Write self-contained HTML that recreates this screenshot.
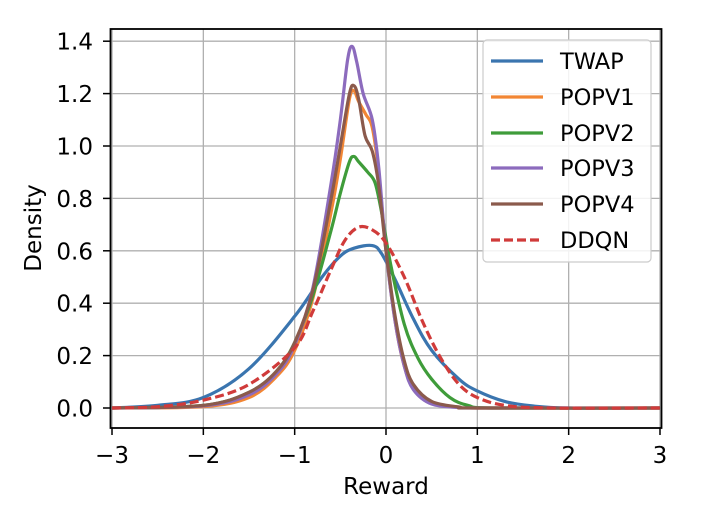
<!DOCTYPE html>
<html><head><meta charset="utf-8"><style>
html,body{margin:0;padding:0;background:#fff}
svg text{font-family:"DejaVu Sans","Liberation Sans",sans-serif;fill:#000}
</style></head><body>
<svg id="s" width="720" height="512" viewBox="0 0 720 512" xmlns="http://www.w3.org/2000/svg">
<rect width="720" height="512" fill="#fff"/>
<g id="grid" stroke="#b0b0b0" stroke-width="1.3"></g>
<g id="curves" fill="none" stroke-width="3.2" stroke-linejoin="round"></g>
<rect x="110.5" y="29" width="551" height="399" fill="none" stroke="#000" stroke-width="1.8"/>
<g id="ticks" stroke="#000" stroke-width="1.5"></g>
<g id="labels" font-size="23"></g>
<text x="386" y="494" font-size="23" text-anchor="middle">Reward</text>
<text transform="translate(41,228) rotate(-90)" font-size="23" text-anchor="middle">Density</text>
<g>
<rect x="483" y="40" width="168" height="222" rx="4" fill="#fff" fill-opacity="0.85" stroke="#ccc" stroke-width="1.2"/>
<g stroke-width="3.2">
<line x1="491" y1="61" x2="543" y2="61" stroke="#3a75af"/>
<line x1="491" y1="97" x2="543" y2="97" stroke="#f28634"/>
<line x1="491" y1="133" x2="543" y2="133" stroke="#3f9c3a"/>
<line x1="491" y1="168" x2="543" y2="168" stroke="#8c6bbd"/>
<line x1="491" y1="204" x2="543" y2="204" stroke="#8b5a4c"/>
<line x1="491" y1="240" x2="543" y2="240" stroke="#d03b3a" stroke-dasharray="9,4"/>
</g>
<g font-size="22.5">
<text x="560" y="69">TWAP</text>
<text x="560" y="105">POPV1</text>
<text x="560" y="141">POPV2</text>
<text x="560" y="176">POPV3</text>
<text x="560" y="212">POPV4</text>
<text x="560" y="248">DDQN</text>
</g>
</g>
</svg>
<script>
var NS="http://www.w3.org/2000/svg";
function X(v){return 386+v*91.33}
function Y(v){return 408-v*262}
function el(p,t,a){var e=document.createElementNS(NS,t);for(var k in a)e.setAttribute(k,a[k]);p.appendChild(e);return e}
var g=document.getElementById('grid'),tk=document.getElementById('ticks'),lb=document.getElementById('labels');
for(var i=-3;i<=3;i++){var x=X(i);el(g,'line',{x1:x,x2:x,y1:29,y2:428});el(tk,'line',{x1:x,x2:x,y1:428,y2:435});
var t=el(lb,'text',{x:x,y:463,'text-anchor':'middle'});t.textContent=(i<0?'\u2212'+(-i):i);}
for(var j=0;j<=7;j++){var v=j*0.2,y=Y(v);el(g,'line',{x1:110,x2:662,y1:y,y2:y});el(tk,'line',{x1:103,x2:110,y1:y,y2:y});
var t=el(lb,'text',{x:93,y:y+8.5,'text-anchor':'end'});t.textContent=v.toFixed(1);}
function path(pts){var P=pts.map(function(p){return[X(p[0]),Y(p[1])]});var d='M'+P[0][0]+','+P[0][1];
for(var i=0;i<P.length-1;i++){var p0=P[i-1]||P[i],p1=P[i],p2=P[i+1],p3=P[i+2]||p2;
var c1=[p1[0]+(p2[0]-p0[0])/6,p1[1]+(p2[1]-p0[1])/6],c2=[p2[0]-(p3[0]-p1[0])/6,p2[1]-(p3[1]-p1[1])/6];
d+='C'+c1+' '+c2+' '+p2;}return d}
var C=document.getElementById('curves');
var S=[
['#3a75af',[[-3,0],[-2.5,0.01],[-2,0.04],[-1.5,0.15],[-1,0.35],[-0.7,0.5],[-0.5,0.58],[-0.35,0.61],[-0.15,0.62],[-0.05,0.59],[0.1,0.49],[0.3,0.34],[0.5,0.22],[0.8,0.11],[1,0.065],[1.3,0.025],[1.6,0.008],[2,0],[3,0]]],
['#f28634',[[-3,0],[-2,0.005],[-1.5,0.04],[-1.2,0.12],[-1,0.22],[-0.8,0.42],[-0.6,0.75],[-0.5,0.95],[-0.4,1.18],[-0.35,1.21],[-0.3,1.17],[-0.22,1.12],[-0.15,1.07],[-0.08,0.9],[0,0.6],[0.1,0.33],[0.2,0.16],[0.3,0.08],[0.5,0.02],[0.8,0.003],[1,0],[3,0]]],
['#3f9c3a',[[-3,0],[-2,0.01],[-1.5,0.06],[-1.2,0.14],[-1,0.25],[-0.8,0.43],[-0.6,0.68],[-0.5,0.82],[-0.4,0.94],[-0.35,0.96],[-0.3,0.94],[-0.2,0.9],[-0.12,0.86],[-0.05,0.75],[0.05,0.55],[0.2,0.32],[0.35,0.19],[0.5,0.11],[0.7,0.04],[0.9,0.01],[1.2,0],[3,0]]],
['#8c6bbd',[[-3,0],[-2,0.008],[-1.5,0.05],[-1.2,0.13],[-1,0.24],[-0.8,0.46],[-0.6,0.86],[-0.5,1.1],[-0.42,1.33],[-0.37,1.38],[-0.32,1.32],[-0.25,1.2],[-0.15,1.1],[-0.08,0.92],[0,0.6],[0.1,0.33],[0.2,0.16],[0.3,0.07],[0.5,0.015],[0.8,0.002],[1,0],[3,0]]],
['#8b5a4c',[[-3,0],[-2,0.01],[-1.5,0.06],[-1.2,0.14],[-1,0.25],[-0.8,0.45],[-0.6,0.8],[-0.5,1.0],[-0.4,1.2],[-0.35,1.23],[-0.3,1.18],[-0.23,1.04],[-0.15,0.98],[-0.08,0.85],[0,0.6],[0.1,0.35],[0.2,0.18],[0.3,0.09],[0.5,0.025],[0.8,0.004],[1,0],[3,0]]]
];
S.forEach(function(s){el(C,'path',{d:path(s[1]),stroke:s[0]})});
el(C,'path',{d:path([[-3,0],[-2.5,0.005],[-2,0.03],[-1.5,0.09],[-1,0.23],[-0.8,0.37],[-0.6,0.53],[-0.45,0.64],[-0.3,0.69],[-0.15,0.68],[0,0.63],[0.2,0.5],[0.4,0.33],[0.6,0.19],[0.8,0.09],[1,0.04],[1.3,0.01],[1.8,0],[3,0]]),stroke:'#d03b3a','stroke-dasharray':'9,4'});
</script>
</body></html>
